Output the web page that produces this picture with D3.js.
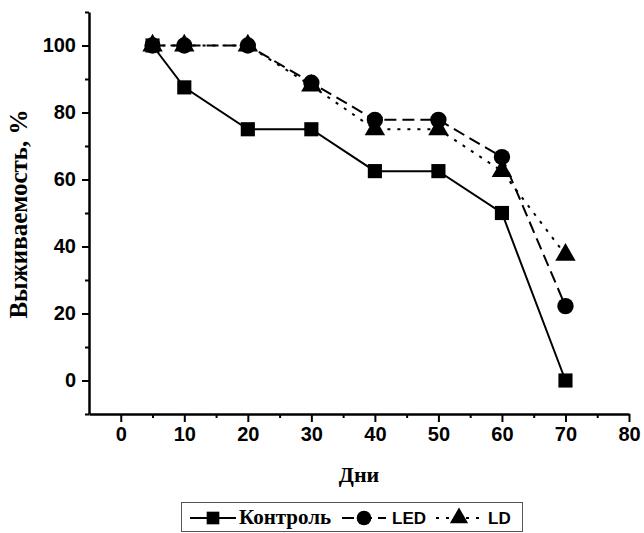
<!DOCTYPE html>
<html>
<head>
<meta charset="utf-8">
<script src="https://cdn.jsdelivr.net/npm/d3@7"></script>
<style>
  body { margin: 0; background: #fff; }
  .tick text { font-family: "Liberation Sans", Arial, sans-serif; font-weight: bold; font-size: 20px; }
</style>
</head>
<body>
<div id="chart"></div>
<script>
var days = [5, 10, 20, 30, 40, 50, 60, 70];
var control = [100, 87.5, 75, 75, 62.5, 62.5, 50, 0];
var led = [100, 100, 100, 88.9, 77.8, 77.8, 66.7, 22.2];
var ld = [100, 100, 100, 88, 75, 75, 62.5, 37.5];
var seriesNames = ["Контроль", "LED", "LD"];
var xTicks = [0, 10, 20, 30, 40, 50, 60, 70, 80];
var yTicks = [0, 20, 40, 60, 80, 100];

var width = 644, height = 533;
var plotLeft = 89, plotRight = 629, plotTop = 12, plotBottom = 414;

var svg = d3.select('#chart').append('svg')
    .attr('width', width)
    .attr('height', height);

var x = d3.scaleLinear().domain([-5, 80]).range([plotLeft, plotRight]);
var y = d3.scaleLinear().domain([-10, 110]).range([plotBottom, plotTop]);

// axes
svg.append('g')
    .attr('transform', 'translate(0,' + plotBottom + ')')
    .call(d3.axisBottom(x).tickValues(xTicks).tickSize(8).tickPadding(5).tickSizeOuter(0));
svg.append('g')
    .attr('transform', 'translate(0,' + plotBottom + ')')
    .call(d3.axisBottom(x).tickValues(d3.range(5, 80, 10)).tickSize(4).tickFormat('').tickSizeOuter(0))
    .select('.domain').remove();

svg.append('g')
    .attr('transform', 'translate(' + plotLeft + ',0)')
    .call(d3.axisLeft(y).tickValues(yTicks).tickSize(7).tickPadding(6).tickSizeOuter(0));
svg.append('g')
    .attr('transform', 'translate(' + plotLeft + ',0)')
    .call(d3.axisLeft(y).tickValues(d3.range(-10, 111, 20)).tickSize(4).tickFormat('').tickSizeOuter(0))
    .select('.domain').remove();

svg.selectAll('.domain').attr('stroke', '#000').attr('stroke-width', 2.5);
svg.selectAll('.tick line').attr('stroke', '#000').attr('stroke-width', 2);

// axis titles
svg.append('text')
    .attr('x', (plotLeft + plotRight) / 2)
    .attr('y', 482)
    .attr('text-anchor', 'middle')
    .style('font-family', '"Liberation Serif", "Times New Roman", serif')
    .style('font-weight', 'bold')
    .style('font-size', '22px')
    .text('Дни');

svg.append('text')
    .attr('transform', 'translate(27,214) rotate(-90)')
    .attr('text-anchor', 'middle')
    .style('font-family', '"Liberation Serif", "Times New Roman", serif')
    .style('font-weight', 'bold')
    .style('font-size', '25px')
    .text('Выживаемость, %');

// series
var series = [
    {name: seriesNames[0], values: control, dash: null, symbol: d3.symbolSquare, size: 200},
    {name: seriesNames[1], values: led, dash: '12,6', symbol: d3.symbolCircle, size: 210},
    {name: seriesNames[2], values: ld, dash: '3,7', symbol: d3.symbolTriangle, size: 180}
];

var line = d3.line()
    .x(function(d, i) { return x(days[i]); })
    .y(function(d) { return y(d); });

series.forEach(function(s) {
    svg.append('path')
        .datum(s.values)
        .attr('fill', 'none')
        .attr('stroke', '#000')
        .attr('stroke-width', 2)
        .attr('stroke-dasharray', s.dash)
        .attr('d', line);
});

series.forEach(function(s) {
    svg.selectAll(null)
        .data(s.values)
        .enter()
        .append('path')
        .attr('transform', function(d, i) { return 'translate(' + x(days[i]) + ',' + y(d) + ')'; })
        .attr('d', d3.symbol().type(s.symbol).size(s.size))
        .attr('fill', '#000');
});

// legend
var lg = svg.append('g');
lg.append('rect')
    .attr('x', 181.5).attr('y', 502.5)
    .attr('width', 341).attr('height', 29)
    .attr('fill', 'none').attr('stroke', '#555').attr('stroke-width', 1);

var legendItems = [
    {x: 190, w: 46, tx: 239, font: '"Liberation Serif", serif', size: '21px'},
    {x: 342, w: 44, tx: 392, font: '"Liberation Sans", Arial, sans-serif', size: '17px'},
    {x: 436, w: 46, tx: 488, font: '"Liberation Sans", Arial, sans-serif', size: '17px'}
];

series.forEach(function(s, i) {
    var it = legendItems[i];
    lg.append('line')
        .attr('x1', it.x).attr('x2', it.x + it.w)
        .attr('y1', 518).attr('y2', 518)
        .attr('stroke', '#000').attr('stroke-width', 2)
        .attr('stroke-dasharray', s.dash);
    lg.append('path')
        .attr('transform', 'translate(' + (it.x + it.w / 2) + ',518)')
        .attr('d', d3.symbol().type(s.symbol).size(s.size * 0.8))
        .attr('fill', '#000');
    lg.append('text')
        .attr('x', it.tx).attr('y', 524)
        .style('font-family', it.font)
        .style('font-weight', 'bold')
        .style('font-size', it.size)
        .text(s.name);
});
</script>
</body>
</html>
